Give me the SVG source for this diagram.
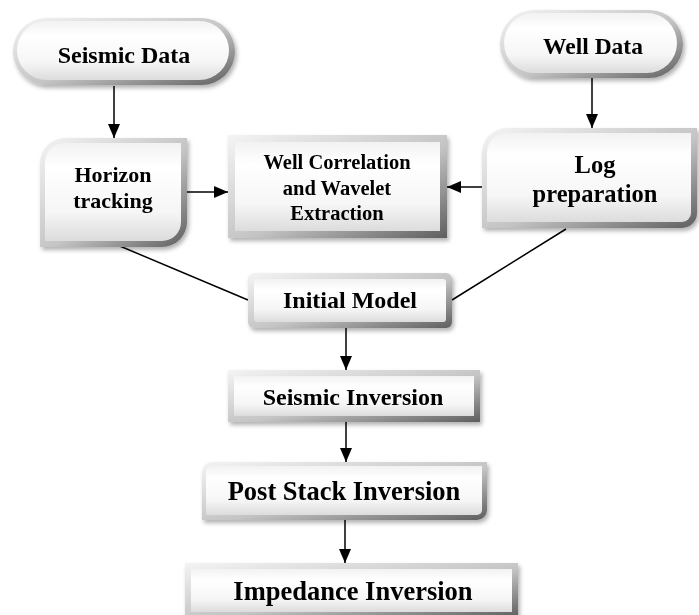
<svg xmlns="http://www.w3.org/2000/svg" width="699" height="615" viewBox="0 0 699 615">
<style>
.t{font-family:"Liberation Serif","Times New Roman",serif;font-weight:bold;fill:#000;text-anchor:middle}
.ln{stroke:#000;stroke-width:1.5;fill:none}
.edge{fill:url(#edge)}
.face{fill:url(#face)}
.node{filter:url(#sh)}
</style>
<defs>
<linearGradient id="face" x1="0" y1="0" x2="0" y2="1">
<stop offset="0" stop-color="#f2f2f2"/>
<stop offset="0.25" stop-color="#ffffff"/>
<stop offset="0.7" stop-color="#f6f6f6"/>
<stop offset="1" stop-color="#dcdcdc"/>
</linearGradient>
<linearGradient id="edge" x1="0" y1="0" x2="1" y2="1">
<stop offset="0" stop-color="#f4f4f4"/>
<stop offset="0.55" stop-color="#c4c4c4"/>
<stop offset="1" stop-color="#5e5e5e"/>
</linearGradient>
<filter id="sh" x="-10%" y="-10%" width="125%" height="135%">
<feDropShadow dx="2" dy="3" stdDeviation="2" flood-color="#000" flood-opacity="0.3"/>
</filter>
<marker id="ah" markerUnits="userSpaceOnUse" markerWidth="14" markerHeight="12" refX="14" refY="6" orient="auto">
<path d="M0,0 L14,6 L0,12 Z" fill="#000"/>
</marker>
</defs>

<g id="connectors">
<line class="ln" x1="114" y1="86" x2="114" y2="138" marker-end="url(#ah)"/>
<line class="ln" x1="592" y1="78" x2="592" y2="128" marker-end="url(#ah)"/>
<line class="ln" x1="187" y1="192" x2="228" y2="192" marker-end="url(#ah)"/>
<line class="ln" x1="482" y1="187" x2="447" y2="187" marker-end="url(#ah)"/>
<line class="ln" x1="115" y1="244" x2="248" y2="300"/>
<line class="ln" x1="566" y1="229" x2="452" y2="300"/>
<line class="ln" x1="346" y1="328" x2="346" y2="370" marker-end="url(#ah)"/>
<line class="ln" x1="346" y1="422" x2="346" y2="462" marker-end="url(#ah)"/>
<line class="ln" x1="345" y1="520" x2="345" y2="563" marker-end="url(#ah)"/>
</g>

<g id="seismic-data" class="node">
<rect class="edge" x="13" y="18" width="222" height="67" rx="33.5"/>
<rect class="face" x="17" y="21" width="212" height="59" rx="29.5"/>
<text class="t" x="124" y="63" font-size="24">Seismic Data</text>
</g>

<g id="well-data" class="node">
<rect class="edge" x="500" y="10" width="183" height="68" rx="34"/>
<rect class="face" x="504" y="13" width="173" height="60" rx="30"/>
<text class="t" x="593" y="54" font-size="23.5">Well Data</text>
</g>

<g id="horizon-tracking" class="node">
<path class="edge" d="M40,163 A25,25 0 0 1 65,138 H187 V222 A25,25 0 0 1 162,247 H40 Z"/>
<path class="face" d="M45,163 A20,20 0 0 1 65,143 H181 V222 A19,19 0 0 1 162,241 H45 Z"/>
<text class="t" x="113" y="182" font-size="22">Horizon</text>
<text class="t" x="113" y="208" font-size="22">tracking</text>
</g>

<g id="well-correlation" class="node">
<rect class="edge" x="228" y="135" width="219" height="103"/>
<rect class="face" x="235" y="142" width="205" height="89"/>
<text class="t" x="337" y="169" font-size="20.5">Well Correlation</text>
<text class="t" x="337" y="195" font-size="20.5">and Wavelet</text>
<text class="t" x="337" y="220" font-size="20.5">Extraction</text>
</g>

<g id="log-preparation" class="node">
<path class="edge" d="M482,153 A25,25 0 0 1 507,128 H697 V213 A15,15 0 0 1 682,228 H482 Z"/>
<path class="face" d="M487,153 A20,20 0 0 1 507,133 H691 V213 A9,9 0 0 1 682,222 H487 Z"/>
<text class="t" x="595" y="173" font-size="24.5">Log</text>
<text class="t" x="595" y="202" font-size="24.5">preparation</text>
</g>

<g id="initial-model" class="node">
<rect class="edge" x="248" y="273" width="204" height="55" rx="6"/>
<rect class="face" x="254" y="279" width="192" height="43" rx="3"/>
<text class="t" x="350" y="308" font-size="24">Initial Model</text>
</g>

<g id="seismic-inversion" class="node">
<rect class="edge" x="228" y="370" width="252" height="52"/>
<rect class="face" x="234" y="376" width="240" height="40"/>
<text class="t" x="353" y="405" font-size="24">Seismic Inversion</text>
</g>

<g id="post-stack-inversion" class="node">
<path class="edge" d="M202,472 A10,10 0 0 1 212,462 H487 V510 A10,10 0 0 1 477,520 H202 Z"/>
<path class="face" d="M206,472 A6,6 0 0 1 212,466 H482 V510 A5,5 0 0 1 477,515 H206 Z"/>
<text class="t" x="344" y="500" font-size="26.5">Post Stack Inversion</text>
</g>

<g id="impedance-inversion" class="node">
<rect class="edge" x="185" y="563" width="333" height="55"/>
<rect class="face" x="191" y="569" width="321" height="43"/>
<text class="t" x="353" y="600" font-size="26.5">Impedance Inversion</text>
</g>
</svg>
